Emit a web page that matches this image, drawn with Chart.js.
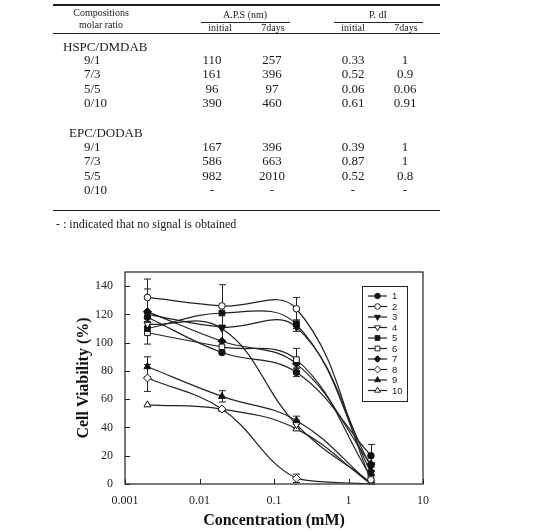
<!DOCTYPE html>
<html>
<head>
<meta charset="utf-8">
<script src="https://cdn.jsdelivr.net/npm/chart.js@4.4.1/dist/chart.umd.min.js"></script>
<style>
  html, body { margin: 0; padding: 0; background: #fff; }
  #wrap { position: relative; width: 544px; height: 530px; overflow: hidden;
          font-family: "Liberation Serif", "Times New Roman", serif; color: #1a1a1a; }
  #chart { position: absolute; left: 0; top: 0; }
  .c { position: absolute; white-space: nowrap; transform: translate(-50%, -50%); line-height: 1; }
  .l { position: absolute; white-space: nowrap; transform: translateY(-50%); line-height: 1; }
  .rule { position: absolute; background: #222; }
</style>
</head>
<body>
<div id="wrap">
  <canvas id="chart" width="544" height="530"></canvas>
  <div id="tbl"></div>
</div>
<script>
// ===== Table data =====
const hspcRows = [
  ['9/1', '110', '257', '0.33', '1'],
  ['7/3', '161', '396', '0.52', '0.9'],
  ['5/5', '96', '97', '0.06', '0.06'],
  ['0/10', '390', '460', '0.61', '0.91']
];
const epcRows = [
  ['9/1', '167', '396', '0.39', '1'],
  ['7/3', '586', '663', '0.87', '1'],
  ['5/5', '982', '2010', '0.52', '0.8'],
  ['0/10', '-', '-', '-', '-']
];

// ===== Chart data =====
const concentrations = [0.002, 0.02, 0.2, 2];
const xTickValues = [0.001, 0.01, 0.1, 1, 10];
const yTickValues = [0, 20, 40, 60, 80, 100, 120, 140];
const seriesNames = ['1', '2', '3', '4', '5', '6', '7', '8', '9', '10'];
const seriesValues = [
  [118, 93, 79, 20],
  [132, 126, 124, 3],
  [120, 111, 111, 12],
  [113, 110, 42, 1],
  [110, 121, 113, 8],
  [107, 97, 88, 5],
  [122, 101, 85, 14],
  [75, 53, 4, 0],
  [83, 62, 45, 0],
  [56, 53, 39, 0]
];
const seriesErrors = [
  [0, 0, 3, 8],
  [13, 15, 8, 3],
  [0, 10, 3, 3],
  [0, 0, 3, 0],
  [0, 0, 3, 0],
  [8, 0, 8, 4],
  [16, 0, 3, 0],
  [9.5, 0, 3, 0],
  [7, 4, 3, 0],
  [0, 0, 0, 0]
];
const seriesMarkers = [
  { style: 'circle', rot: 0, filled: true },
  { style: 'circle', rot: 0, filled: false },
  { style: 'triangle', rot: 180, filled: true },
  { style: 'triangle', rot: 180, filled: false },
  { style: 'rect', rot: 0, filled: true },
  { style: 'rect', rot: 0, filled: false },
  { style: 'rectRot', rot: 0, filled: true },
  { style: 'rectRot', rot: 0, filled: false },
  { style: 'triangle', rot: 0, filled: true },
  { style: 'triangle', rot: 0, filled: false }
];

// ===== Table =====
function buildTable() {
  const tbl = document.getElementById('tbl');
  let html = '';
  const rule = (x, y, w, h) => { html += `<div class="rule" style="left:${x}px;top:${y}px;width:${w}px;height:${h}px"></div>`; };
  const c = (x, y, txt, size) => { html += `<div class="c" style="left:${x}px;top:${y}px;font-size:${size}px">${txt}</div>`; };
  const l = (x, y, txt, size) => { html += `<div class="l" style="left:${x}px;top:${y}px;font-size:${size}px">${txt}</div>`; };

  rule(53, 4, 387, 1.5);
  rule(53, 32.5, 387, 1.5);
  rule(53, 209.5, 387, 1.5);
  rule(201, 21.5, 89, 1);
  rule(334, 21.5, 89, 1);

  c(101, 13, 'Compositions', 10);
  c(101, 25, 'molar ratio', 10);
  c(245, 15, 'A.P.S (nm)', 10);
  c(378, 15, 'P. dI', 10);
  c(220, 28, 'initial', 10);
  c(273, 28, '7days', 10);
  c(353, 28, 'initial', 10);
  c(406, 28, '7days', 10);

  const colX = [212, 272, 353, 405];
  l(63, 46, 'HSPC/DMDAB', 13);
  [59, 73, 88, 102].forEach((y, i) => {
    l(84, y, hspcRows[i][0], 13);
    for (let k = 1; k < 5; k++) c(colX[k - 1], y, hspcRows[i][k], 13);
  });
  l(69, 132, 'EPC/DODAB', 13);
  [146, 160, 175, 189].forEach((y, i) => {
    l(84, y, epcRows[i][0], 13);
    for (let k = 1; k < 5; k++) c(colX[k - 1], y, epcRows[i][k], 13);
  });

  l(56, 224, '- : indicated that no signal is obtained', 12);
  tbl.innerHTML = html;
}
buildTable();

// ===== Plugins =====
const errorBars = {
  id: 'errorBars',
  beforeDatasetsDraw(chart) {
    const { ctx, scales: { x, y } } = chart;
    ctx.save();
    ctx.strokeStyle = '#222';
    ctx.lineWidth = 1;
    seriesValues.forEach((vals, i) => {
      vals.forEach((v, j) => {
        const e = seriesErrors[i][j];
        if (!e) return;
        const px = Math.round(x.getPixelForValue(concentrations[j])) + 0.5;
        const top = y.getPixelForValue(v + e);
        const bot = y.getPixelForValue(Math.max(0, v - e));
        ctx.beginPath();
        ctx.moveTo(px, top); ctx.lineTo(px, bot);
        ctx.moveTo(px - 3.5, top); ctx.lineTo(px + 3.5, top);
        ctx.moveTo(px - 3.5, bot); ctx.lineTo(px + 3.5, bot);
        ctx.stroke();
      });
    });
    ctx.restore();
  }
};

const frameAndLegend = {
  id: 'frameAndLegend',
  afterDraw(chart) {
    const { ctx, chartArea: a, scales: { x, y } } = chart;
    ctx.save();
    ctx.strokeStyle = '#222';
    ctx.lineWidth = 1.2;
    ctx.strokeRect(a.left, a.top, a.right - a.left, a.bottom - a.top);
    ctx.lineWidth = 1;
    ctx.beginPath();
    yTickValues.forEach(v => {
      const py = Math.round(y.getPixelForValue(v)) + 0.5;
      ctx.moveTo(a.left, py); ctx.lineTo(a.left + 5, py);
    });
    xTickValues.forEach(v => {
      const px = Math.round(x.getPixelForValue(v)) + 0.5;
      ctx.moveTo(px, a.bottom); ctx.lineTo(px, a.bottom - 5);
    });
    ctx.stroke();

    // legend box
    const bx = 362, by = 286, bw = 45, bh = 115;
    ctx.lineWidth = 1;
    ctx.strokeRect(bx + 0.5, by + 0.5, bw, bh);
    ctx.font = '9.5px "Liberation Sans", Arial, sans-serif';
    ctx.textBaseline = 'middle';
    ctx.fillStyle = '#222';
    seriesNames.forEach((name, i) => {
      const ly = 296 + i * 10.5;
      ctx.strokeStyle = '#222';
      ctx.lineWidth = 1.2;
      ctx.beginPath();
      ctx.moveTo(368, ly); ctx.lineTo(387, ly);
      ctx.stroke();
      const m = seriesMarkers[i];
      ctx.fillStyle = m.filled ? '#111' : '#fff';
      ctx.lineWidth = 1;
      Chart.helpers.drawPoint(ctx, {
        pointStyle: m.style, rotation: m.rot,
        radius: m.style === 'circle' ? 2.8 : 3.4, borderWidth: 1
      }, 377.5, ly);
      ctx.fillStyle = '#222';
      ctx.fillText(name, 392, ly + 0.5);
    });
    ctx.restore();
  }
};

// ===== Chart =====
const datasets = seriesValues.map((vals, i) => {
  const m = seriesMarkers[i];
  return {
    label: seriesNames[i],
    data: vals.map((v, j) => ({ x: concentrations[j], y: v })),
    borderColor: '#222',
    borderWidth: 1.2,
    backgroundColor: m.filled ? '#111' : '#fff',
    pointBorderColor: '#111',
    pointBackgroundColor: m.filled ? '#111' : '#fff',
    pointStyle: m.style,
    pointRotation: m.rot,
    pointRadius: m.style === 'circle' ? 3.3 : 4,
    pointBorderWidth: 1,
    tension: 0.4,
    fill: false
  };
});

new Chart(document.getElementById('chart').getContext('2d'), {
  type: 'line',
  data: { datasets },
  options: {
    responsive: false,
    animation: false,
    devicePixelRatio: 1,
    layout: { padding: { top: 272, left: 70, right: 121, bottom: 0 } },
    plugins: { legend: { display: false }, tooltip: { enabled: false } },
    scales: {
      x: {
        type: 'logarithmic',
        min: 0.001, max: 10,
        afterBuildTicks: s => { s.ticks = xTickValues.map(value => ({ value })); },
        afterFit: s => { s.height = 46; },
        grid: { display: false },
        border: { display: false },
        ticks: {
          autoSkip: false, maxRotation: 0, padding: 2, color: '#222',
          font: { family: '"Liberation Serif", "Times New Roman", serif', size: 12 },
          callback: v => String(v)
        },
        title: {
          display: true, text: 'Concentration (mM)', color: '#111',
          padding: { top: 0, bottom: 0 },
          font: { family: '"Liberation Serif", "Times New Roman", serif', size: 16, weight: 'bold' }
        }
      },
      y: {
        min: 0, max: 150,
        afterBuildTicks: s => { s.ticks = yTickValues.map(value => ({ value })); },
        afterFit: s => { s.width = 55; },
        grid: { display: false },
        border: { display: false },
        ticks: {
          padding: 4, color: '#222',
          font: { family: '"Liberation Serif", "Times New Roman", serif', size: 12 }
        },
        title: {
          display: true, text: 'Cell Viability (%)', color: '#111',
          padding: { top: 4, bottom: 0 },
          font: { family: '"Liberation Serif", "Times New Roman", serif', size: 16, weight: 'bold' }
        }
      }
    }
  },
  plugins: [errorBars, frameAndLegend]
});
</script>
</body>
</html>
